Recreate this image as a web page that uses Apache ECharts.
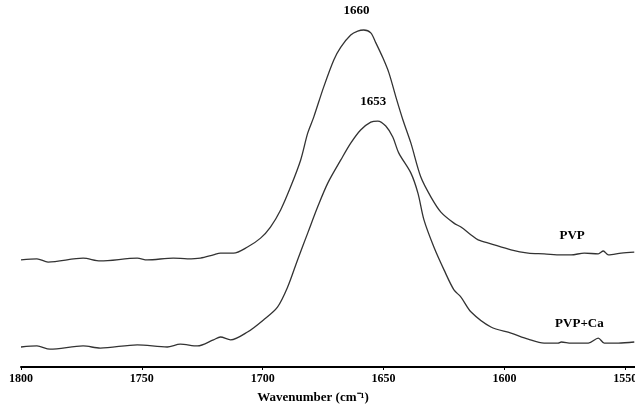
<!DOCTYPE html>
<html>
<head>
<meta charset="utf-8">
<script src="https://cdn.jsdelivr.net/npm/echarts@6/dist/echarts.min.js"></script>
<style>
  html, body { margin: 0; padding: 0; background: #fff; }
  #chart { width: 635px; height: 405px; }
</style>
</head>
<body>
<div id="chart"></div>
<script>
// wavenumber (cm-1) and absorbance (a.u.)
var pvpWave = [1800, 1793.4, 1788.8, 1774.3, 1767.2, 1751.9, 1747.8, 1737.0, 1731.2, 1725.8,
  1720.4, 1717.5, 1712.1, 1706.3, 1700.9, 1696.8, 1692.6, 1688.5, 1684.3, 1681.4,
  1678.9, 1674.8, 1670.6, 1667.7, 1663.6, 1660.7, 1658.2, 1655.3, 1653.2, 1650.3,
  1647.8, 1644.9, 1642.0, 1638.7, 1634.6, 1630.4, 1626.3, 1620.9, 1618.0, 1613.8,
  1610.9, 1605.6, 1597.3, 1590.2, 1583.6, 1576.5, 1572.4, 1567.0, 1561.2, 1559.1,
  1557.0, 1551.7, 1546.3];
var pvpAbs = [0.300, 0.303, 0.294, 0.305, 0.297, 0.305, 0.300, 0.305, 0.303, 0.305,
  0.314, 0.319, 0.319, 0.336, 0.361, 0.392, 0.440, 0.504, 0.580, 0.655,
  0.700, 0.784, 0.860, 0.896, 0.930, 0.941, 0.944, 0.936, 0.908, 0.866,
  0.824, 0.756, 0.692, 0.627, 0.532, 0.476, 0.434, 0.403, 0.392, 0.370,
  0.356, 0.345, 0.328, 0.319, 0.317, 0.314, 0.314, 0.319, 0.317, 0.325,
  0.314, 0.319, 0.322];

var caWave = [1800, 1793.4, 1788.0, 1774.3, 1767.2, 1751.9, 1739.5, 1734.1, 1727.0, 1720.4,
  1717.5, 1713.3, 1706.3, 1699.7, 1693.9, 1689.7, 1685.6, 1681.4, 1677.3, 1673.1,
  1667.7, 1663.6, 1659.5, 1655.3, 1652.4, 1649.1, 1646.2, 1643.7, 1638.7, 1635.8,
  1633.3, 1629.2, 1625.0, 1620.9, 1618.0, 1613.8, 1605.6, 1597.3, 1590.2, 1583.6,
  1577.8, 1576.5, 1572.4, 1565.3, 1561.2, 1558.7, 1552.9, 1546.3];
var caAbs = [0.056, 0.059, 0.050, 0.059, 0.053, 0.062, 0.056, 0.064, 0.059, 0.076,
  0.084, 0.076, 0.098, 0.132, 0.168, 0.224, 0.300, 0.375, 0.448, 0.515,
  0.580, 0.627, 0.664, 0.686, 0.689, 0.675, 0.644, 0.599, 0.543, 0.487,
  0.412, 0.336, 0.272, 0.216, 0.196, 0.154, 0.112, 0.095, 0.078, 0.067,
  0.067, 0.070, 0.067, 0.067, 0.081, 0.067, 0.067, 0.070];

var tickValues = [1800, 1750, 1700, 1650, 1600, 1550];
var peakPvp = [1660, 0.944];
var peakCa = [1653, 0.689];

function zip(xs, ys) {
  var out = [];
  for (var i = 0; i < xs.length; i++) out.push([xs[i], ys[i]]);
  return out;
}

var serif = 'Liberation Serif';
var ec = echarts.init(document.getElementById('chart'), null, { width: 635, height: 405 });
ec.setOption({
  animation: false,
  backgroundColor: '#fff',
  grid: { left: 21, right: 0, top: 10, bottom: 38, containLabel: false, outerBoundsMode: 'none' },
  xAxis: {
    type: 'value',
    inverse: true,
    min: 1546,
    max: 1800,
    name: 'Wavenumber (cm⁻¹)',
    nameLocation: 'middle',
    nameGap: 24,
    nameTextStyle: { fontFamily: serif, fontWeight: 'bold', fontSize: 13, color: '#000', padding: [0, 30, 0, 0] },
    axisLine: { lineStyle: { color: '#000', width: 2 } },
    axisTick: { show: true, length: 3, customValues: tickValues, lineStyle: { color: '#000' } },
    axisLabel: {
      customValues: tickValues,
      formatter: function (v) { return String(v); },
      fontFamily: serif, fontWeight: 'bold', fontSize: 12, color: '#000', margin: 6
    },
    splitLine: { show: false }
  },
  yAxis: { type: 'value', min: 0, max: 1, show: false },
  series: [{
    name: 'PVP',
    type: 'line',
    data: zip(pvpWave, pvpAbs),
    smooth: 0.3,
    showSymbol: false,
    lineStyle: { color: '#333', width: 1.3 },
    markPoint: {
      symbol: 'circle', symbolSize: 0,
      data: [
        { coord: peakPvp, label: { formatter: '1660', offset: [-3, -8] } },
        { coord: [1572, 0.314], label: { formatter: 'PVP', offset: [0, -8] } }
      ],
      label: { show: true, position: 'top', fontFamily: serif, fontWeight: 'bold', fontSize: 13, color: '#000' }
    }
  }, {
    name: 'PVP+Ca',
    type: 'line',
    data: zip(caWave, caAbs),
    smooth: 0.3,
    showSymbol: false,
    lineStyle: { color: '#333', width: 1.3 },
    markPoint: {
      symbol: 'circle', symbolSize: 0,
      data: [
        { coord: peakCa, label: { formatter: '1653', offset: [-3, -8] } },
        { coord: [1569, 0.067], label: { formatter: 'PVP+Ca', offset: [0, -8] } }
      ],
      label: { show: true, position: 'top', fontFamily: serif, fontWeight: 'bold', fontSize: 13, color: '#000' }
    }
  }]
});
</script>
</body>
</html>
